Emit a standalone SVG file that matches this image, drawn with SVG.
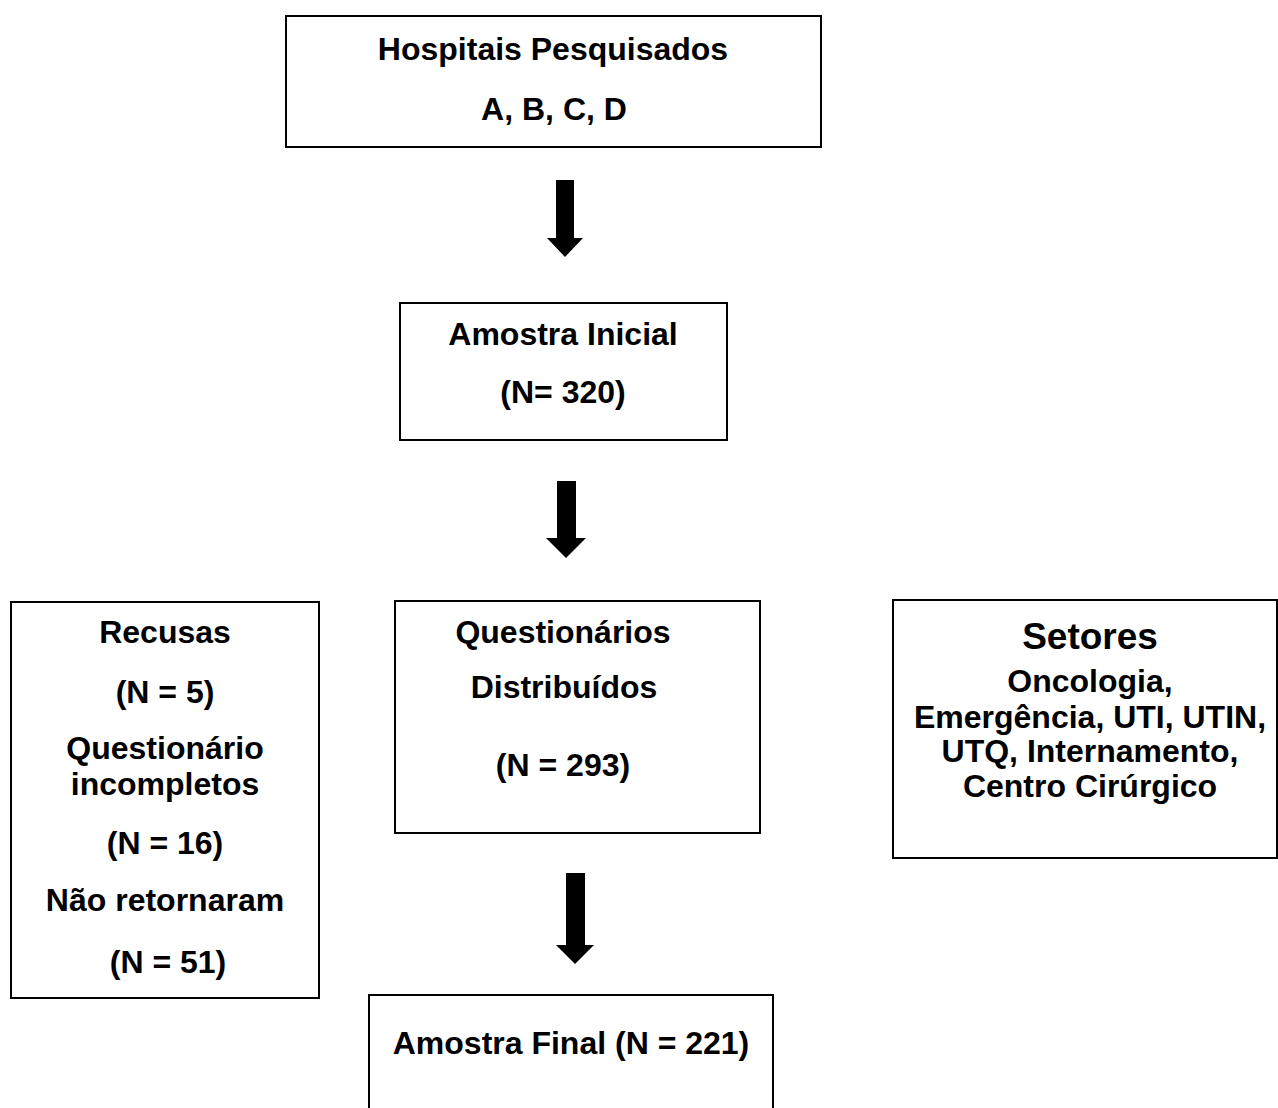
<svg xmlns="http://www.w3.org/2000/svg" width="1278" height="1108" viewBox="0 0 1278 1108">
<style>
.box{fill:#fff;stroke:#000;stroke-width:2}
text{font-family:"Liberation Sans",Arial,sans-serif;font-weight:bold;font-size:32px;fill:#000;text-anchor:middle}
.big{font-size:37px}
.arrow{fill:#000}
</style>
<rect width="1278" height="1108" fill="#fff"/>
<g id="hospitais">
<rect class="box" x="286" y="16" width="535" height="131"/>
<text x="553" y="60">Hospitais Pesquisados</text>
<text x="554" y="120">A, B, C, D</text>
</g>
<g id="amostra-inicial">
<rect class="box" x="400" y="303" width="327" height="137"/>
<text x="563" y="345">Amostra Inicial</text>
<text x="563" y="403">(N= 320)</text>
</g>
<g id="exclusoes">
<rect class="box" x="11" y="602" width="308" height="396"/>
<text x="165" y="643">Recusas</text>
<text x="165" y="703">(N = 5)</text>
<text x="165" y="759">Questionário</text>
<text x="165" y="795">incompletos</text>
<text x="165" y="854">(N = 16)</text>
<text x="165" y="911">Não retornaram</text>
<text x="168" y="973">(N = 51)</text>
</g>
<g id="questionarios">
<rect class="box" x="395" y="601" width="365" height="232"/>
<text x="563" y="643">Questionários</text>
<text x="564" y="698">Distribuídos</text>
<text x="563" y="776">(N = 293)</text>
</g>
<g id="setores">
<rect class="box" x="893" y="600" width="384" height="258"/>
<text class="big" x="1090" y="649">Setores</text>
<text x="1090" y="692">Oncologia,</text>
<text x="1090" y="728">Emergência, UTI, UTIN,</text>
<text x="1090" y="762">UTQ, Internamento,</text>
<text x="1090" y="797">Centro Cirúrgico</text>
</g>
<g id="amostra-final">
<rect class="box" x="369" y="995" width="404" height="130"/>
<text x="571" y="1054">Amostra Final (N = 221)</text>
</g>
<g id="connectors">
<polygon class="arrow" points="556,180 574,180 574,238 583,238 565,257 547,238 556,238"/>
<polygon class="arrow" points="557,481 576,481 576,538 586,538 566,558 546,538 557,538"/>
<polygon class="arrow" points="566,873 585,873 585,945 594,945 575,964 556,945 566,945"/>
</g>
</svg>
